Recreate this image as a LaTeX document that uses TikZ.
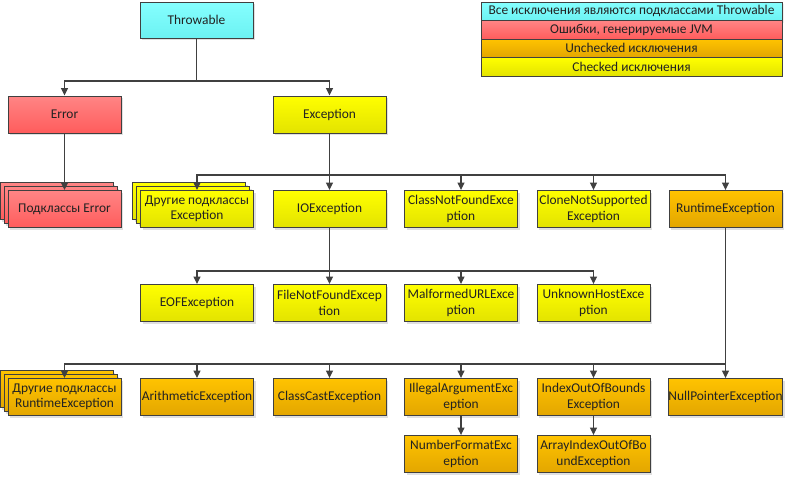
\documentclass[tikz,border=0pt]{standalone}
\usepackage{fontspec}
\setmainfont{Carlito}
\usetikzlibrary{arrows.meta,shadows}
\definecolor{linec}{HTML}{404040}
\definecolor{txt}{HTML}{222222}
\definecolor{cyT}{HTML}{85FFFF}\definecolor{cyB}{HTML}{6CF2F2}
\definecolor{rdT}{HTML}{FF8585}\definecolor{rdB}{HTML}{FF5C5C}
\definecolor{orT}{HTML}{FFC300}\definecolor{orB}{HTML}{E3A600}
\definecolor{yeT}{HTML}{FFFF00}\definecolor{yeB}{HTML}{E3E300}
\tikzset{
  base/.style={draw=linec, line width=0.9pt, inner sep=0pt, align=center,
    font=\fontsize{13.4}{15.5}\selectfont, text=txt},
  box/.style={base, minimum width=113pt, minimum height=37pt,
    drop shadow={shadow xshift=2pt, shadow yshift=-2pt, fill=black!12, opacity=1}},
  cyanf/.style={top color=cyT, bottom color=cyB},
  redf/.style={top color=rdT, bottom color=rdB},
  orf/.style={top color=orT, bottom color=orB},
  yef/.style={top color=yeT, bottom color=yeB},
  leg/.style={base, minimum width=301pt, minimum height=18.5pt},
  arr/.style={draw=linec, line width=1.2pt, -{Triangle[width=7pt,length=7.5pt]}},
  wire/.style={draw=linec, line width=1.2pt},
}
\begin{document}
\begin{tikzpicture}[x=1pt,y=-1pt]
\useasboundingbox[fill=white] (0,0) rectangle (791,482);
% legend
\node[leg,cyanf, drop shadow={shadow xshift=2pt, shadow yshift=-2pt, fill=black!12}] (l1) at (631.5,11.25) {Все исключения являются подклассами Throwable};
\node[leg,redf] (l2) at (631.5,29.75) {Ошибки, генерируемые JVM};
\node[leg,orf] (l3) at (631.5,48.25) {Unchecked исключения};
\node[leg,yef] (l4) at (631.5,66.75) {Checked исключения};
% row 0/1
\node[box,cyanf,minimum height=36pt] (thr) at (196.5,20) {Throwable};
\node[box,redf] (err) at (64.5,114.5) {Error};
\node[box,yef] (exc) at (329.5,114.5) {Exception};
% row 2
\node[box,redf] (se3) at (56.5,201) {};
\node[box,redf] (se2) at (60.5,205) {};
\node[box,redf] (suberr) at (64.5,209) {Подклассы Error};
\node[box,yef] (so3) at (189,201) {};
\node[box,yef] (so2) at (193,205) {};
\node[box,yef] (othexc) at (197,209) {Другие подклассы\\Exception};
\node[box,yef] (ioe) at (329.5,209) {IOException};
\node[box,yef] (cnf) at (461,209) {ClassNotFoundExce\\ption};
\node[box,yef] (cns) at (593.5,209) {CloneNotSupported\\Exception};
\node[box,orf] (rte) at (725.5,209) {RuntimeException};
% row 3
\node[box,yef] (eof) at (197,303) {EOFException};
\node[box,yef] (fnf) at (329.5,303) {FileNotFoundExcep\\tion};
\node[box,yef] (mal) at (461,303) {MalformedURLExce\\ption};
\node[box,yef] (unk) at (593.5,303) {UnknownHostExce\\ption};
% row 4
\node[box,orf] (sr3) at (56.5,389) {};
\node[box,orf] (sr2) at (60.5,393) {};
\node[box,orf] (othrt) at (64.5,397) {Другие подклассы\\RuntimeException};
\node[box,orf] (ari) at (197,397) {ArithmeticException};
\node[box,orf] (cce) at (329.5,397) {ClassCastException};
\node[box,orf] (iae) at (461,397) {IllegalArgumentExc\\eption};
\node[box,orf] (ioob) at (593.5,397) {IndexOutOfBounds\\Exception};
\node[box,orf] (npe) at (725.5,397) {NullPointerException};
% row 5
\node[box,orf] (nfe) at (461,454) {NumberFormatExc\\eption};
\node[box,orf] (aioob) at (593.5,454) {ArrayIndexOutOfBo\\undException};
% connectors
\coordinate (j0) at (196.5,81);
\draw[wire] (thr.south) -- (j0);
\draw[arr] (j0) -| (err.north);
\draw[arr] (j0) -| (exc.north);
\draw[arr] (err.south) -- (suberr.north);
\coordinate (j1) at (329.5,175);
\draw[arr] (exc.south) -- (ioe.north);
\draw[arr] (j1) -| (othexc.north);
\draw[arr] (j1) -| (cnf.north);
\draw[arr] (j1) -| (cns.north);
\draw[arr] (j1) -| (rte.north);
\coordinate (j2) at (329.5,271);
\draw[arr] (ioe.south) -- (fnf.north);
\draw[arr] (j2) -| (eof.north);
\draw[arr] (j2) -| (mal.north);
\draw[arr] (j2) -| (unk.north);
\coordinate (j3) at (725.5,364);
\draw[arr] (rte.south) -- (npe.north);
\draw[arr] (j3) -| (othrt.north);
\draw[arr] (j3) -| (ari.north);
\draw[arr] (j3) -| (cce.north);
\draw[arr] (j3) -| (iae.north);
\draw[arr] (j3) -| (ioob.north);
\draw[arr] (iae.south) -- (nfe.north);
\draw[arr] (ioob.south) -- (aioob.north);
\end{tikzpicture}
\end{document}
